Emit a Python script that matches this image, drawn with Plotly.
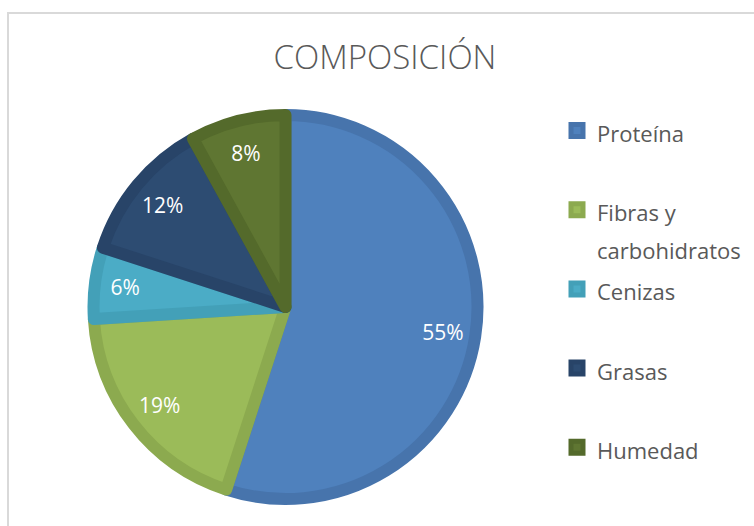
import plotly.graph_objects as go

categories = ["Proteína", "Fibras y carbohidratos", "Cenizas", "Grasas", "Humedad"]
values = [55, 19, 6, 12, 8]
legend_labels = ["Proteína", "Fibras y<br>carbohidratos", "Cenizas", "Grasas", "Humedad"]
fill_colors = ["#4F81BD", "#9BBB59", "#4BACC6", "#2D4C72", "#5F7632"]
edge_colors = ["#4774AC", "#8CAA4F", "#43A0B8", "#284468", "#546A2B"]

W, H = 754, 526
NB = "\u00a0"


def big(s):
    return '<span style="font-size:22px">' + s + "</span>"


# every legend entry spans two lines; the symbol sits on the first line
padded = []
for lab in legend_labels:
    parts = [big(p) for p in lab.split("<br>")]
    while len(parts) < 2:
        parts.append(NB)
    padded.append("<br>".join(parts))

pie_domain = dict(x=[93.5 / W, 477.5 / W], y=[(H - 499) / H, (H - 115) / H])

fig = go.Figure()
# filled slices
fig.add_trace(go.Pie(
    labels=padded,
    values=values,
    customdata=categories,
    sort=False,
    direction="clockwise",
    rotation=0,
    marker=dict(colors=fill_colors, line=dict(color=edge_colors, width=12)),
    textinfo="none",
    hovertemplate="%{customdata}: %{value}<extra></extra>",
    domain=pie_domain,
))
# percentage labels, placed in an outer ring like the original
fig.add_trace(go.Pie(
    labels=padded,
    values=values,
    sort=False,
    direction="clockwise",
    rotation=0,
    hole=0.66,
    marker=dict(colors=["rgba(0,0,0,0)"] * len(values), line=dict(width=0)),
    texttemplate="%{percent:.0%}",
    textposition="inside",
    insidetextorientation="horizontal",
    textfont=dict(family="Open Sans", size=21, color="#FFFFFF"),
    hoverinfo="skip",
    showlegend=False,
    domain=pie_domain,
))

fig.update_layout(
    width=W, height=H,
    margin=dict(l=0, r=0, t=0, b=0),
    paper_bgcolor="#FFFFFF",
    plot_bgcolor="#FFFFFF",
    title=dict(
        text="COMPOSICIÓN",
        x=385 / W, xanchor="center",
        y=1 - 57 / H, yanchor="middle",
        font=dict(family="Open Sans", size=33, color="#595959", weight=300),
    ),
    showlegend=True,
    legend=dict(
        x=557 / W, xanchor="left",
        y=1 - 105 / H, yanchor="top",
        valign="top",
        font=dict(family="Open Sans", size=29.3, color="#595959"),
        bgcolor="rgba(0,0,0,0)",
        traceorder="normal",
    ),
    shapes=[dict(
        type="rect", xref="paper", yref="paper",
        x0=8 / W, x1=1.02, y0=-0.02, y1=1 - 13 / H,
        line=dict(color="#D9D9D9", width=2), fillcolor="rgba(0,0,0,0)",
    )],
)

fig.write_html(
    "out.html",
    config={"displayModeBar": False},
    post_script="document.body.style.margin='0';",
)
